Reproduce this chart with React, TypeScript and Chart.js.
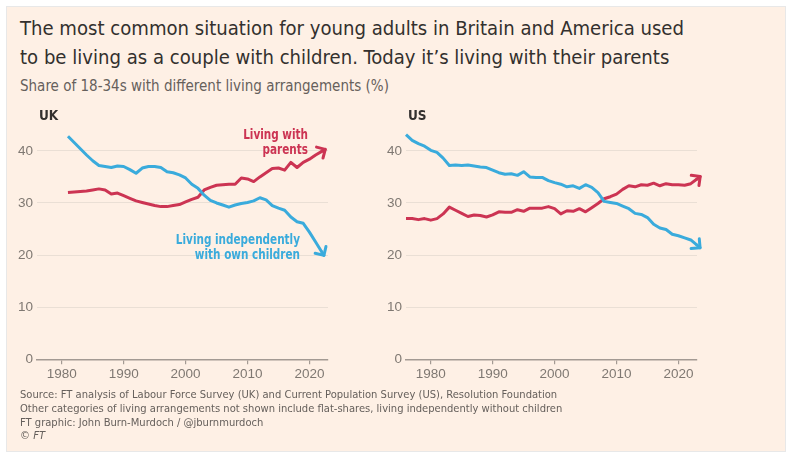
import React, { useEffect, useRef } from "react";
import { Chart, registerables } from "chart.js";

Chart.register(...registerables);

// ---------- data ----------
const UK_YEARS = [
  1981, 1982, 1983, 1984, 1985, 1986, 1987, 1988, 1989, 1990,
  1991, 1992, 1993, 1994, 1995, 1996, 1997, 1998, 1999, 2000,
  2001, 2002, 2003, 2004, 2005, 2006, 2007, 2008, 2009, 2010,
  2011, 2012, 2013, 2014, 2015, 2016, 2017, 2018, 2019, 2020,
  2021, 2022,
];
const UK_INDEPENDENT = [
  42.8, 41.6, 40.4, 39.2, 38.1, 37.2, 37.0, 36.8, 37.1, 37.0,
  36.4, 35.7, 36.7, 37.0, 37.0, 36.8, 36.0, 35.8, 35.4, 34.8,
  33.6, 32.8, 31.5, 30.5, 30.0, 29.6, 29.2, 29.6, 29.9, 30.1,
  30.4, 31.0, 30.6, 29.5, 29.0, 28.6, 27.3, 26.4, 26.1, 24.4,
  22.5, 20.6,
];
const UK_PARENTS = [
  32.0, 32.1, 32.2, 32.3, 32.5, 32.7, 32.5, 31.7, 31.9, 31.4,
  30.9, 30.4, 30.1, 29.8, 29.5, 29.3, 29.3, 29.5, 29.7, 30.2,
  30.7, 31.1, 32.5, 33.0, 33.4, 33.5, 33.6, 33.6, 34.8, 34.6,
  34.1, 35.0, 35.8, 36.6, 36.7, 36.3, 37.8, 36.8, 37.8, 38.4,
  39.2, 39.9,
];

const US_YEARS = [
  1976, 1977, 1978, 1979, 1980, 1981, 1982, 1983, 1984, 1985,
  1986, 1987, 1988, 1989, 1990, 1991, 1992, 1993, 1994, 1995,
  1996, 1997, 1998, 1999, 2000, 2001, 2002, 2003, 2004, 2005,
  2006, 2007, 2008, 2009, 2010, 2011, 2012, 2013, 2014, 2015,
  2016, 2017, 2018, 2019, 2020, 2021, 2022, 2023,
];
const US_INDEPENDENT = [
  43.1, 42.0, 41.4, 40.9, 40.1, 39.7, 38.6, 37.2, 37.3, 37.2,
  37.3, 37.1, 36.9, 36.8, 36.3, 35.8, 35.5, 35.6, 35.3, 36.0,
  35.0, 34.9, 34.9, 34.3, 33.9, 33.6, 33.1, 33.3, 32.8, 33.5,
  33.0, 32.0, 30.3, 30.1, 29.9, 29.4, 28.9, 28.0, 27.8, 27.2,
  25.9, 25.2, 24.9, 24.0, 23.7, 23.3, 22.9, 21.9,
];
const US_PARENTS = [
  27.0, 27.0, 26.8, 27.0, 26.7, 27.0, 27.9, 29.2, 28.6, 28.0,
  27.4, 27.7, 27.6, 27.3, 27.7, 28.3, 28.2, 28.2, 28.7, 28.4,
  29.0, 29.0, 29.0, 29.3, 28.9, 27.9, 28.5, 28.4, 28.9, 28.3,
  29.1, 29.9, 30.8, 31.2, 31.7, 32.6, 33.3, 33.1, 33.5, 33.4,
  33.8, 33.3, 33.7, 33.5, 33.5, 33.4, 33.7, 34.6,
];

const X_TICKS = [1980, 1990, 2000, 2010, 2020];
const Y_TICKS = [0, 10, 20, 30, 40];

// ---------- style ----------
const BLUE = "#3aabdc";
const RED = "#cc3453";
const BG = "#fef0e5";
const GRID = "#eadfd5";
const AXIS = "#a39a93";
const TICK_TEXT = "#7f7872";
const DARK = "#33302e";
const MID = "#66605c";
const NARROW = '"DejaVu Sans Condensed", "DejaVu Sans", "Roboto", sans-serif';
const TICK_FONT = '"Liberation Sans", "Roboto", sans-serif';

const arrowPlugin = {
  id: "arrowHeads",
  afterDatasetsDraw(chart: any) {
    const ctx = chart.ctx;
    chart.data.datasets.forEach((ds: any, i: number) => {
      const pts = chart.getDatasetMeta(i).data;
      const n = pts.length;
      if (n < 2) return;
      const a = pts[n - 2];
      const b = pts[n - 1];
      const ang = Math.atan2(b.y - a.y, b.x - a.x);
      const ext = 4;
      const tx = b.x + Math.cos(ang) * ext;
      const ty = b.y + Math.sin(ang) * ext;
      const L = 9;
      const spread = Math.PI * 0.25;
      ctx.save();
      ctx.strokeStyle = ds.borderColor;
      ctx.lineWidth = 3;
      ctx.lineCap = "round";
      ctx.lineJoin = "round";
      ctx.beginPath();
      ctx.moveTo(b.x, b.y);
      ctx.lineTo(tx, ty);
      ctx.stroke();
      ctx.beginPath();
      ctx.moveTo(tx - L * Math.cos(ang - spread), ty - L * Math.sin(ang - spread));
      ctx.lineTo(tx, ty);
      ctx.lineTo(tx - L * Math.cos(ang + spread), ty - L * Math.sin(ang + spread));
      ctx.stroke();
      ctx.restore();
    });
  },
};

function makeConfig(years: number[], independent: number[], parents: number[]): any {
  return {
    type: "line",
    data: {
      datasets: [
        {
          label: "Living independently with own children",
          data: years.map((x, i) => ({ x, y: independent[i] })),
          borderColor: BLUE,
          borderWidth: 3,
          pointRadius: 0,
          tension: 0,
          borderJoinStyle: "round",
          clip: false,
        },
        {
          label: "Living with parents",
          data: years.map((x, i) => ({ x, y: parents[i] })),
          borderColor: RED,
          borderWidth: 3,
          pointRadius: 0,
          tension: 0,
          borderJoinStyle: "round",
          clip: false,
        },
      ],
    },
    options: {
      animation: false,
      responsive: true,
      maintainAspectRatio: false,
      layout: { padding: { left: 0, right: 17, top: 30, bottom: 0 } },
      plugins: { legend: { display: false }, tooltip: { enabled: false }, title: { display: false } },
      scales: {
        x: {
          type: "linear",
          min: 1976,
          max: 2023,
          afterBuildTicks: (axis: any) => {
            axis.ticks = X_TICKS.map((v) => ({ value: v }));
          },
          afterFit: (axis: any) => {
            axis.height = 30.7;
          },
          ticks: {
            callback: (v: any) => String(v),
            autoSkip: false,
            maxRotation: 0,
            padding: 2,
            color: TICK_TEXT,
            font: { family: TICK_FONT, size: 13.5 },
          },
          grid: { drawOnChartArea: false, drawTicks: true, tickLength: 5, color: AXIS, lineWidth: 1.2 },
          border: { display: true, color: AXIS, width: 1.5 },
        },
        y: {
          min: 0,
          max: 44,
          afterBuildTicks: (axis: any) => {
            axis.ticks = Y_TICKS.map((v) => ({ value: v }));
          },
          afterFit: (axis: any) => {
            axis.width = 37;
          },
          ticks: {
            callback: (v: any) => String(v),
            padding: 4,
            color: TICK_TEXT,
            font: { family: TICK_FONT, size: 13.5 },
          },
          grid: {
            drawTicks: false,
            color: (c: any) => (c.tick && c.tick.value === 0 ? "rgba(0,0,0,0)" : GRID),
            lineWidth: 1,
          },
          border: { display: false },
        },
      },
    },
    plugins: [arrowPlugin],
  };
}

function Panel(props: { left: number; years: number[]; independent: number[]; parents: number[] }) {
  const ref = useRef<HTMLCanvasElement | null>(null);
  useEffect(() => {
    const chart = new Chart(ref.current as HTMLCanvasElement, makeConfig(props.years, props.independent, props.parents));
    return () => chart.destroy();
  }, []);
  return (
    <div style={{ position: "absolute", left: props.left, top: 100, width: 345, height: 290 }}>
      <canvas ref={ref} />
    </div>
  );
}

const abs = (left: number, top: number, extra: React.CSSProperties = {}): React.CSSProperties => ({
  position: "absolute",
  left,
  top,
  whiteSpace: "nowrap",
  ...extra,
});

const annotation = (color: string): React.CSSProperties => ({
  textAlign: "right",
  fontFamily: NARROW,
  fontWeight: 700,
  fontSize: 13.5,
  lineHeight: "15px",
  color,
  transform: "scaleX(0.86)",
  transformOrigin: "right center",
});

export default function App() {
  return (
    <div style={{ position: "absolute", left: 0, top: 0, width: 800, height: 465, background: "#ffffff", overflow: "hidden" }}>
      <div
        style={{
          position: "absolute",
          left: 6,
          top: 6,
          width: 780,
          height: 446,
          boxSizing: "border-box",
          border: "1.5px solid #e8e8e8",
          background: BG,
        }}
      />
      <div style={abs(20, 14, { fontFamily: NARROW, fontSize: 20.1, lineHeight: "29px", color: DARK })}>
        The most common situation for young adults in Britain and America used
        <br />
        to be living as a couple with children. Today it’s living with their parents
      </div>
      <div style={abs(20, 77, { fontFamily: NARROW, fontSize: 15, lineHeight: "18px", color: MID })}>
        Share of 18-34s with different living arrangements (%)
      </div>

      <Panel left={0} years={UK_YEARS} independent={UK_INDEPENDENT} parents={UK_PARENTS} />
      <Panel left={369} years={US_YEARS} independent={US_INDEPENDENT} parents={US_PARENTS} />

      <div style={abs(39, 107, { fontFamily: NARROW, fontWeight: 700, fontSize: 13.5, lineHeight: "16px", color: DARK })}>UK</div>
      <div style={abs(408, 107, { fontFamily: NARROW, fontWeight: 700, fontSize: 13.5, lineHeight: "16px", color: DARK })}>US</div>

      <div style={abs(158, 127, { width: 150, ...annotation(RED) })}>
        Living with
        <br />
        parents
      </div>
      <div style={abs(100, 232, { width: 200, ...annotation(BLUE) })}>
        Living independently
        <br />
        with own children
      </div>

      <div style={abs(20, 388, { fontFamily: NARROW, fontSize: 11.1, lineHeight: "13.8px", color: MID })}>
        Source: FT analysis of Labour Force Survey (UK) and Current Population Survey (US), Resolution Foundation
        <br />
        Other categories of living arrangements not shown include flat-shares, living independently without children
        <br />
        FT graphic: John Burn-Murdoch / @jburnmurdoch
        <br />
        <span style={{ fontStyle: "italic" }}>© FT</span>
      </div>
    </div>
  );
}
